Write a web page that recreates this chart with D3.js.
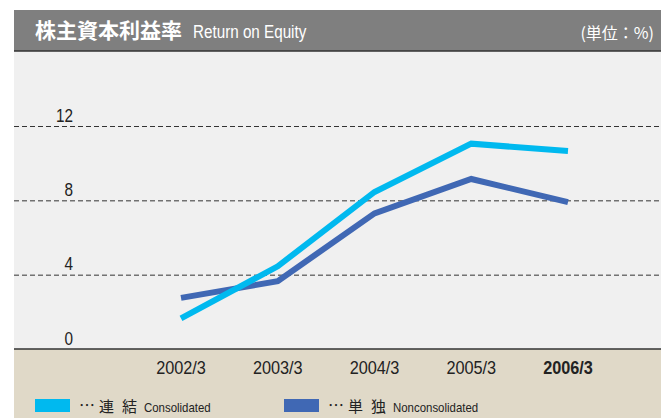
<!DOCTYPE html>
<html>
<head>
<meta charset="utf-8">
<style>
  body { margin: 0; background: #fff; }
  svg { display: block; }
  .cjk { font-family: "Noto Sans CJK JP", sans-serif; }
  .lat { font-family: "Liberation Sans", Arial, sans-serif; }
</style>
</head>
<body>
<div id="chart"></div>
<script src="https://d3js.org/d3.v7.min.js"></script>
<script>
// data
var years = ["2002/3", "2003/3", "2004/3", "2005/3", "2006/3"];
var consolidated = [1.65, 4.45, 8.45, 11.05, 10.65];
var nonconsolidated = [2.75, 3.65, 7.3, 9.15, 7.9];
var yTicks = [0, 4, 8, 12];

var W = 661, H = 418;
var panelLeft = 14, headerTop = 10, headerBottom = 51, base = 349;

var svg = d3.select("#chart").append("svg")
    .attr("width", W)
    .attr("height", H);

// backgrounds
svg.append("rect").attr("x", panelLeft).attr("y", headerTop)
    .attr("width", W - panelLeft).attr("height", headerBottom - headerTop)
    .attr("fill", "#7f7f7f");
svg.append("rect").attr("x", panelLeft).attr("y", headerBottom)
    .attr("width", W - panelLeft).attr("height", base - headerBottom)
    .attr("fill", "#f0f0f0");
svg.append("rect").attr("x", panelLeft).attr("y", base)
    .attr("width", W - panelLeft).attr("height", H - base)
    .attr("fill", "#e0d9c8");
svg.append("line").attr("x1", panelLeft).attr("x2", W)
    .attr("y1", headerBottom).attr("y2", headerBottom)
    .attr("stroke", "#333").attr("stroke-width", 1.5);

// header text
svg.append("text").attr("class", "cjk")
    .attr("x", 35).attr("y", 38)
    .attr("font-size", 21).attr("font-weight", "bold").attr("fill", "#fff")
    .text("株主資本利益率");
svg.append("text").attr("class", "lat")
    .attr("transform", "translate(193,38) scale(0.87,1)")
    .attr("font-size", 17.5).attr("fill", "#fff")
    .text("Return on Equity");
svg.append("text").attr("class", "cjk")
    .attr("x", 654).attr("y", 39).attr("text-anchor", "end")
    .attr("font-size", 16).attr("fill", "#fff")
    .text("(単位：%)");

// scales
var x = d3.scalePoint().domain(years).range([181, 568]);
var y = d3.scaleLinear().domain([0, 12]).range([base, 126]);

// grid
svg.selectAll(".grid")
    .data(yTicks.filter(function(d) { return d > 0; }))
  .enter().append("line")
    .attr("class", "grid")
    .attr("x1", panelLeft).attr("x2", W)
    .attr("y1", function(d) { return y(d) + 0.5; })
    .attr("y2", function(d) { return y(d) + 0.5; })
    .attr("stroke", "#333")
    .attr("stroke-width", 1)
    .attr("stroke-dasharray", "5,3");

svg.selectAll(".ylab")
    .data(yTicks)
  .enter().append("text")
    .attr("class", "ylab lat")
    .attr("transform", function(d) { return "translate(73," + (y(d) - 4.5) + ") scale(0.85,1)"; })
    .attr("text-anchor", "end")
    .attr("font-size", 18)
    .attr("fill", "#222")
    .text(function(d) { return d; });

// baseline
svg.append("line").attr("x1", panelLeft).attr("x2", W)
    .attr("y1", base).attr("y2", base)
    .attr("stroke", "#333").attr("stroke-width", 1.5);

// x labels
svg.selectAll(".xlab")
    .data(years)
  .enter().append("text")
    .attr("class", "xlab lat")
    .attr("transform", function(d) { return "translate(" + x(d) + ",374) scale(0.88,1)"; })
    .attr("text-anchor", "middle")
    .attr("font-size", 18.5)
    .attr("font-weight", function(d, i) { return i == years.length - 1 ? "bold" : "normal"; })
    .attr("fill", "#222")
    .text(function(d) { return d; });

// lines
var line = d3.line()
    .x(function(d, i) { return x(years[i]); })
    .y(function(d) { return y(d); });

svg.append("path").datum(nonconsolidated)
    .attr("d", line)
    .attr("fill", "none")
    .attr("stroke", "#4068b4")
    .attr("stroke-width", 6);
svg.append("path").datum(consolidated)
    .attr("d", line)
    .attr("fill", "none")
    .attr("stroke", "#00b9ef")
    .attr("stroke-width", 6);

// legend
var legend = [
  {color: "#00b9ef", x: 35, jp: "連結", en: "Consolidated"},
  {color: "#4068b4", x: 284, jp: "単独", en: "Nonconsolidated"}
];
var lg = svg.selectAll(".lg").data(legend).enter().append("g")
    .attr("transform", function(d) { return "translate(" + d.x + ",399)"; });
lg.append("rect").attr("width", 35).attr("height", 13)
    .attr("fill", function(d) { return d.color; });
lg.append("text").attr("class", "cjk")
    .attr("x", 44).attr("y", 12).attr("font-size", 16).attr("fill", "#222")
    .text("⋯");
lg.append("text").attr("class", "cjk")
    .attr("x", 64).attr("y", 13).attr("font-size", 15)
    .attr("letter-spacing", 8).attr("fill", "#222")
    .text(function(d) { return d.jp; });
lg.append("text").attr("class", "lat")
    .attr("transform", "translate(109,13) scale(0.88,1)")
    .attr("font-size", 13).attr("fill", "#222")
    .text(function(d) { return d.en; });
</script>
</body>
</html>
